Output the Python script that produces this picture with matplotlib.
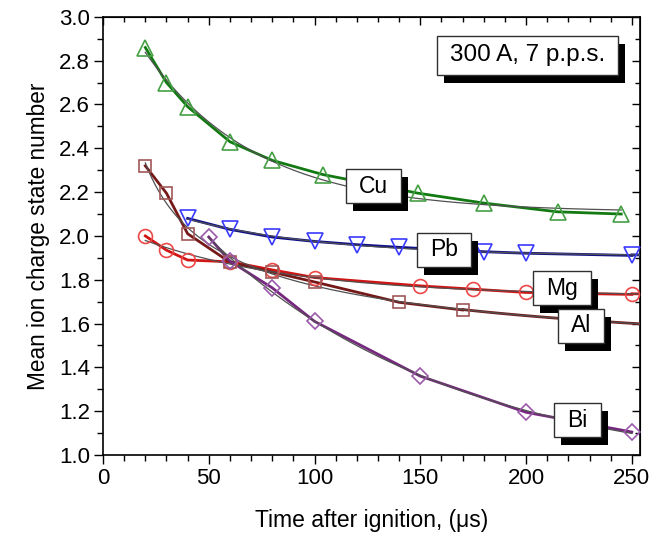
import numpy as np
import matplotlib
matplotlib.use("Agg")
import matplotlib.pyplot as plt
from matplotlib.ticker import MultipleLocator, FormatStrFormatter
from matplotlib.patches import Rectangle
from matplotlib.transforms import IdentityTransform

plt.rcParams['font.family'] = ['Liberation Sans', 'DejaVu Sans']

# ---- data ----
cu_x = [20, 30, 40, 60, 80, 104, 149, 180, 215, 245]
cu_y = [2.86, 2.70, 2.59, 2.43, 2.345, 2.28, 2.195, 2.15, 2.11, 2.10]

pb_x = [40, 60, 80, 100, 120, 140, 180, 200, 250]
pb_y = [2.08, 2.03, 1.995, 1.975, 1.96, 1.948, 1.928, 1.921, 1.911]

mg_x = [20, 30, 40, 60, 80, 100, 150, 175, 200, 250]
mg_y = [2.00, 1.935, 1.89, 1.882, 1.845, 1.81, 1.772, 1.757, 1.742, 1.733]

al_x = [20, 30, 40, 60, 80, 100, 140, 170]
al_y = [2.32, 2.195, 2.01, 1.88, 1.835, 1.79, 1.697, 1.662]

bi_x = [50, 60, 80, 100, 150, 200, 250]
bi_y = [1.995, 1.885, 1.763, 1.61, 1.36, 1.195, 1.105]

labels = ["Cu", "Pb", "Mg", "Al", "Bi"]
condition = "300 A, 7 p.p.s."


def exp_fit(x, y):
    x = np.asarray(x, float)
    y = np.asarray(y, float)
    best = None
    for tau in np.linspace(5, 400, 800):
        A = np.column_stack([np.ones_like(x), np.exp(-x / tau)])
        coef, *_ = np.linalg.lstsq(A, y, rcond=None)
        r = np.sum((A @ coef - y) ** 2)
        if best is None or r < best[0]:
            best = (r, coef, tau)
    _, (a, b), tau = best
    return lambda t: a + b * np.exp(-np.asarray(t, float) / tau)


def pow_fit(x, y):
    x = np.asarray(x, float)
    y = np.asarray(y, float)
    best = None
    for p in np.linspace(0.1, 4, 400):
        A = np.column_stack([np.ones_like(x), x ** (-p)])
        coef, *_ = np.linalg.lstsq(A, y, rcond=None)
        r = np.sum((A @ coef - y) ** 2)
        if best is None or r < best[0]:
            best = (r, coef, p)
    _, (a, b), p = best
    return lambda t: a + b * np.asarray(t, float) ** (-p)


fig = plt.figure(figsize=(6.52, 5.44), dpi=100)
ax = fig.add_axes([0.158, 0.1636, 0.824, 0.8054])

XMAX = 254
series = [
    (cu_x, cu_y, '^', '#137a13', '#45a045', max(cu_x), exp_fit),
    (pb_x, pb_y, 'v', '#10108a', '#3a3aff', XMAX, exp_fit),
    (mg_x, mg_y, 'o', '#d01515', '#ec4848', XMAX, exp_fit),
    (al_x, al_y, 's', '#761818', '#a05858', XMAX, pow_fit),
    (bi_x, bi_y, 'D', '#76287f', '#9a5aaa', max(bi_x), exp_fit),
]
msizes = {'^': 11, 'v': 11, 'o': 10, 's': 9, 'D': 8}

for x, y, m, lc, mc, xend, fitter in series:
    f = fitter(x, y)
    xx = np.linspace(min(x), xend, 300)
    ax.plot(x, y, '-', color=lc, lw=2.0, zorder=3)
    if xend > max(x):
        xe = np.linspace(max(x), xend, 100)
        ax.plot(xe, f(xe), '-', color=lc, lw=2.0, zorder=3)
    ax.plot(xx, f(xx), '-', color='#505050', lw=0.9, zorder=4)
    ax.plot(x, y, linestyle='none', marker=m, ms=msizes[m], mfc='none',
            mec=mc, mew=1.2, zorder=5)

ax.set_xlim(0, XMAX)
ax.set_ylim(1.0, 3.0)
ax.xaxis.set_major_locator(MultipleLocator(50))
ax.xaxis.set_minor_locator(MultipleLocator(10))
ax.yaxis.set_major_locator(MultipleLocator(0.2))
ax.yaxis.set_minor_locator(MultipleLocator(0.1))
ax.yaxis.set_major_formatter(FormatStrFormatter('%.1f'))

ax.tick_params(which='both', direction='out', top=False, right=False,
               labelsize=16, width=1.0, colors='black')
ax.tick_params(which='major', length=6.5, pad=3)
ax.tick_params(which='minor', length=4.5)
for s in ax.spines.values():
    s.set_linewidth(1.2)

secx = ax.secondary_xaxis('top')
secx.xaxis.set_major_locator(MultipleLocator(50))
secx.xaxis.set_minor_locator(MultipleLocator(10))
secx.tick_params(which='both', direction='in', labeltop=False, width=1.0)
secx.tick_params(which='major', length=6)
secx.tick_params(which='minor', length=3.5)
secy = ax.secondary_yaxis('right')
secy.yaxis.set_major_locator(MultipleLocator(0.2))
secy.yaxis.set_minor_locator(MultipleLocator(0.1))
secy.tick_params(which='both', direction='in', labelright=False, width=1.0)
secy.tick_params(which='major', length=6)
secy.tick_params(which='minor', length=3.5)

ax.set_xlabel('Time after ignition, (\u03bcs)', fontsize=16.5, labelpad=14)
ax.set_ylabel('Mean ion charge state number', fontsize=16.3, labelpad=6)

# boxed labels with drop shadow (centres in axes fraction)
label_pos = [(0.503, 0.613), (0.635, 0.468), (0.855, 0.381), (0.890, 0.295),
             (0.883, 0.079)]
texts = []
for (lx, ly), t in zip(label_pos, labels):
    texts.append((ax.text(lx, ly, t, transform=ax.transAxes, ha='center',
                          va='center', fontsize=16.5, zorder=8), 34))
texts.append((ax.text(0.790, 0.912, condition, transform=ax.transAxes,
                      ha='center', va='center', fontsize=17.5, zorder=8), 39))

fig.canvas.draw()
r = fig.canvas.get_renderer()
PADX, SHX, SHY = 13, 7, 8
for t, h in texts:
    bb = t.get_window_extent(r)
    cx, cy = (bb.x0 + bb.x1) / 2, (bb.y0 + bb.y1) / 2
    w = bb.width + 2 * PADX
    ax.add_patch(Rectangle((cx - w / 2 + SHX, cy - h / 2 - SHY), w, h,
                           transform=IdentityTransform(), fc='black',
                           ec='black', lw=0, zorder=6, clip_on=False))
    ax.add_patch(Rectangle((cx - w / 2, cy - h / 2), w, h,
                           transform=IdentityTransform(), fc='white',
                           ec='#303030', lw=1.0, zorder=7, clip_on=False))

fig.savefig('out.png', dpi=100)
